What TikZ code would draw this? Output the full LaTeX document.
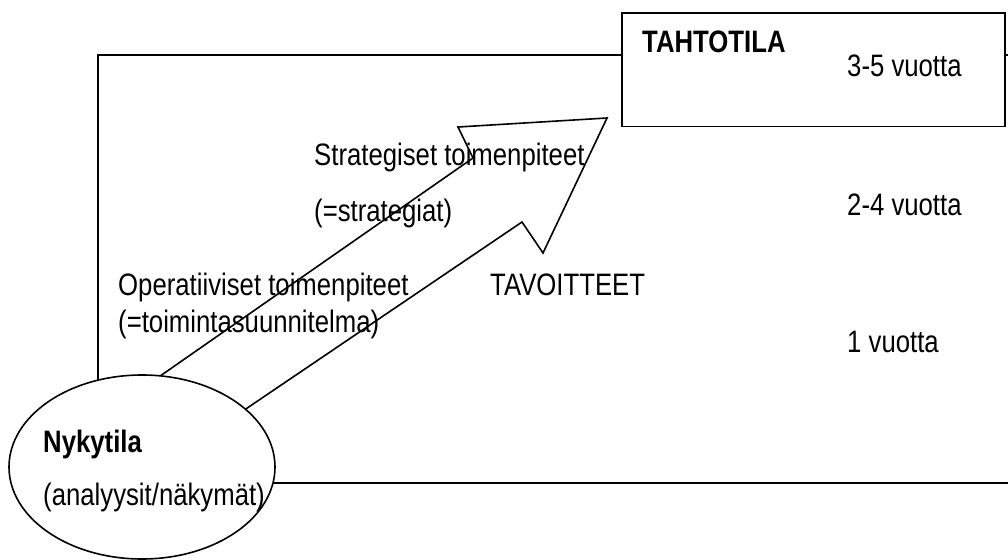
\documentclass[tikz,border=0pt]{standalone}
\usepackage{fontspec}
\setmainfont{Liberation Sans}[FakeStretch=0.83]
\usetikzlibrary{shapes.geometric}
\tikzset{
  outline/.style={draw=black, line width=1.6pt},
  lbl/.style={anchor=base west, inner sep=0pt, font=\fontsize{31}{37}\selectfont},
  blbl/.style={lbl, font=\fontsize{31}{37}\selectfont\bfseries},
}
\begin{document}
\begin{tikzpicture}[x=1pt, y=-1pt]
  \useasboundingbox (0,0) rectangle (1008,559);
  \clip (0,0) rectangle (1008,559);

  % planning frame, running off to the right
  \draw[outline] (98,55) rectangle (1040,483);

  % target state box
  \node[outline, fill=white, rectangle, minimum width=383pt, minimum height=113pt,
        anchor=north west, inner sep=0pt] (goal) at (621,12.5) {};

  % block arrow from the current state towards the target
  \draw[outline, fill=white, line join=miter]
    (120,404) -- (473,158) -- (458,127) -- (607,118) -- (543,253)
    -- (522,222) -- (200,440) -- cycle;

  % current state
  \node[outline, fill=white, ellipse, minimum width=266pt, minimum height=184pt,
        inner sep=0pt] (now) at (142,467) {};

  % labels
  \node[blbl] (tahto) at (642,53) {TAHTOTILA};
  \node[lbl] (y35) at (847,77) {3-5 vuotta};
  \node[lbl] (y24) at (847,215) {2-4 vuotta};
  \node[lbl] (y1) at (847,352) {1 vuotta};
  \node[lbl] (strat) at (314,165) {Strategiset toimenpiteet};
  \node[lbl] (strat2) at (314,221) {(=strategiat)};
  \node[lbl] (oper) at (118,295) {Operatiiviset toimenpiteet};
  \node[lbl] (oper2) at (118,332) {(=toimintasuunnitelma)};
  \node[lbl] (tav) at (490,295) {TAVOITTEET};
  \node[blbl] (nyky) at (43,452) {Nykytila};
  \node[lbl] (nyky2) at (43,505) {(analyysit/näkymät)};
\end{tikzpicture}
\end{document}
